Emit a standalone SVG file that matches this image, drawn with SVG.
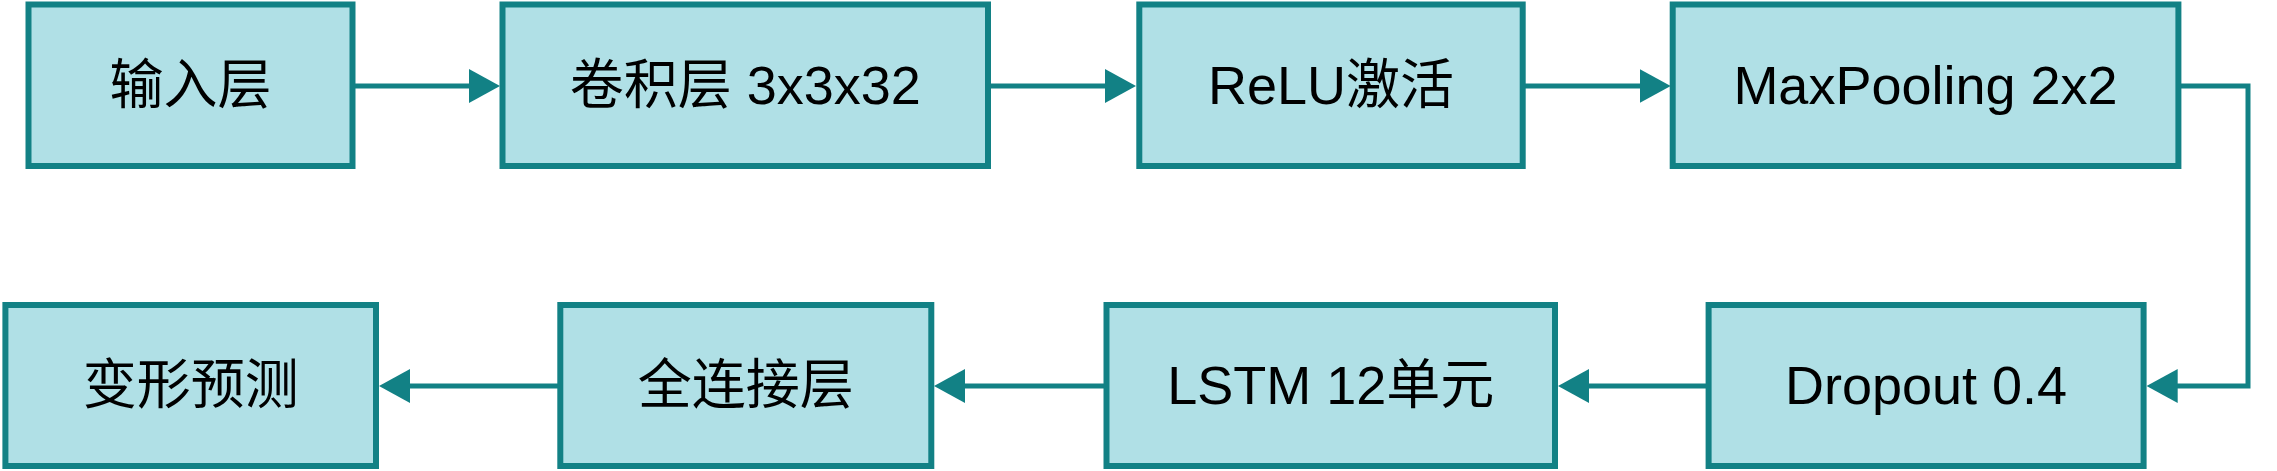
<svg xmlns="http://www.w3.org/2000/svg" width="2277" height="471" viewBox="0 0 2277 471">
<style>
.box{fill:#b0e0e6;stroke:#128185;stroke-width:6}
.lbl{font-family:"Liberation Sans","Noto Sans CJK SC",sans-serif;font-size:54px;fill:#000;text-anchor:middle}
.conn{fill:none;stroke:#128185;stroke-width:5}
</style>
<defs>
<marker id="ah" viewBox="0 0 31 34" markerWidth="31" markerHeight="34" refX="11" refY="17" markerUnits="userSpaceOnUse" orient="auto">
<path d="M0,0 L31,17 L0,34 Z" fill="#128185"/>
</marker>
</defs>
<rect width="2277" height="471" fill="#ffffff"/>
<g id="connectors">
<path class="conn" d="M352.5,86 H480" marker-end="url(#ah)"/>
<path class="conn" d="M988,86 H1116" marker-end="url(#ah)"/>
<path class="conn" d="M1522.7,86 H1650.7" marker-end="url(#ah)"/>
<path class="conn" d="M2178.4,86 H2248 V386 H2166.7" marker-end="url(#ah)"/>
<path class="conn" d="M1708.6,386 H1578" marker-end="url(#ah)"/>
<path class="conn" d="M1106.5,386 H954" marker-end="url(#ah)"/>
<path class="conn" d="M560.3,386 H399" marker-end="url(#ah)"/>
</g>
<g id="node-input"><rect class="box" x="28.5" y="4.5" width="324" height="161.5"/><text class="lbl" x="190.5" y="104">输入层</text></g>
<g id="node-conv"><rect class="box" x="502.5" y="4.5" width="485.5" height="161.5"/><text class="lbl" x="745.3" y="104">卷积层 3x3x32</text></g>
<g id="node-relu"><rect class="box" x="1139.3" y="4.5" width="383.4" height="161.5"/><text class="lbl" x="1331" y="104">ReLU激活</text></g>
<g id="node-maxpool"><rect class="box" x="1672.7" y="4.5" width="505.7" height="161.5"/><text class="lbl" x="1925.5" y="104">MaxPooling 2x2</text></g>
<g id="node-dropout"><rect class="box" x="1708.6" y="305" width="435" height="161"/><text class="lbl" x="1926" y="404">Dropout 0.4</text></g>
<g id="node-lstm"><rect class="box" x="1106.5" y="305" width="448.5" height="161"/><text class="lbl" x="1330.8" y="404">LSTM 12单元</text></g>
<g id="node-fc"><rect class="box" x="560.3" y="305" width="371" height="161"/><text class="lbl" x="745.8" y="404">全连接层</text></g>
<g id="node-predict"><rect class="box" x="5.4" y="305" width="370.6" height="161"/><text class="lbl" x="190.7" y="404">变形预测</text></g>
</svg>
